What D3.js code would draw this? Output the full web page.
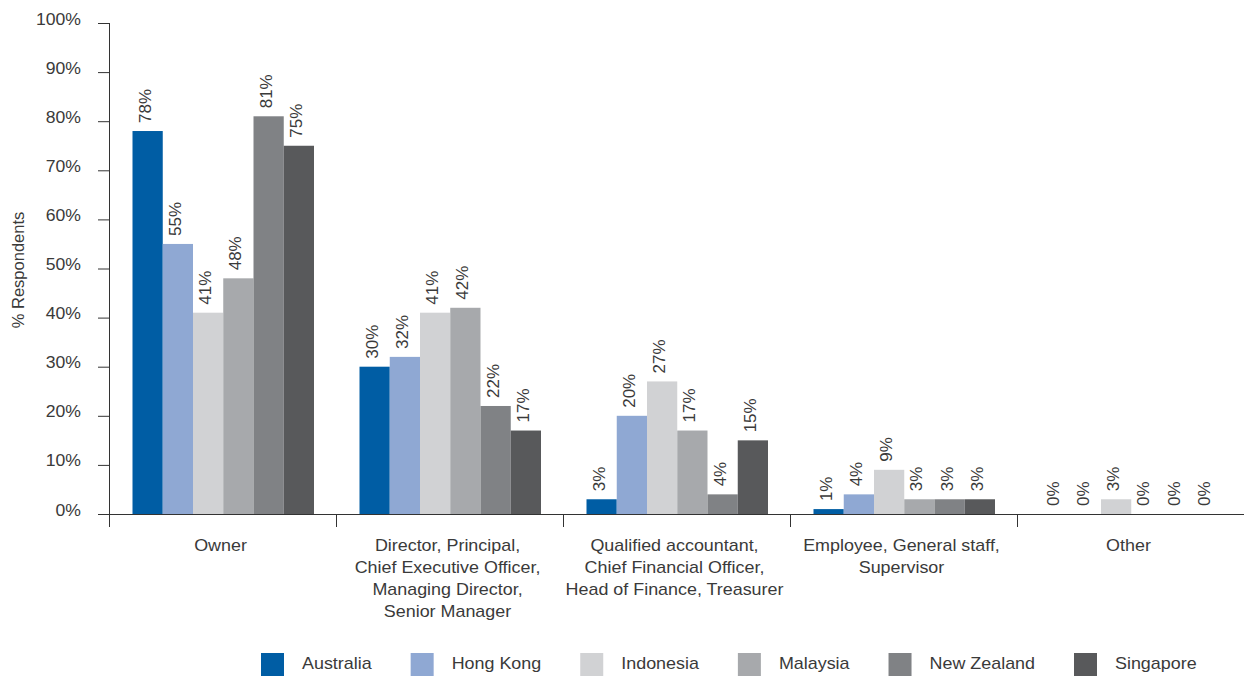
<!DOCTYPE html>
<html>
<head>
<meta charset="utf-8">
<script src="https://cdn.jsdelivr.net/npm/d3@7"></script>
<style>
  html, body { margin: 0; padding: 0; background: #fff; }
  svg { display: block; font-family: "Liberation Sans", Arial, sans-serif; }
</style>
</head>
<body>
<svg id="chart" width="1244" height="677"></svg>
<script>
const categories = [
  ["Owner"],
  ["Director, Principal,", "Chief Executive Officer,", "Managing Director,", "Senior Manager"],
  ["Qualified accountant,", "Chief Financial Officer,", "Head of Finance, Treasurer"],
  ["Employee, General staff,", "Supervisor"],
  ["Other"]
];
const seriesNames = ["Australia", "Hong Kong", "Indonesia", "Malaysia", "New Zealand", "Singapore"];
const seriesColors = ["#005da4", "#8fa8d3", "#d1d2d4", "#a7a9ac", "#808285", "#58595b"];
const australia  = [78, 30, 3, 1, 0];
const hongKong   = [55, 32, 20, 4, 0];
const indonesia  = [41, 41, 27, 9, 3];
const malaysia   = [48, 42, 17, 3, 0];
const newZealand = [81, 22, 4, 3, 0];
const singapore  = [75, 17, 15, 3, 0];
const seriesValues = [australia, hongKong, indonesia, malaysia, newZealand, singapore];
const yTicks = [0, 10, 20, 30, 40, 50, 60, 70, 80, 90, 100];
const yTitle = "% Respondents";

const svg = d3.select("#chart");
const textColor = "#3a3a3a";
const axisColor = "#333";
const sx = 1.12; // horizontal widening to mimic the original font

const x0 = d3.scaleBand().domain(d3.range(categories.length)).range([109, 1244]).padding(0);
const x1 = d3.scaleBand().domain(d3.range(seriesNames.length)).range([23.5, 205]).padding(0);
const y = d3.scaleLinear().domain([0, 100]).range([514, 23]);

// bars
const groups = svg.append("g").selectAll("g")
  .data(categories).join("g")
  .attr("transform", (d, i) => `translate(${x0(i)},0)`);

groups.each(function(cat, ci) {
  const g = d3.select(this);
  const data = seriesValues.map((vals, si) => ({ si, v: vals[ci] }));
  g.selectAll("rect").data(data).join("rect")
    .attr("x", d => x1(d.si))
    .attr("width", x1.bandwidth())
    .attr("y", d => y(d.v))
    .attr("height", d => y(0) - y(d.v))
    .attr("fill", d => seriesColors[d.si]);
  g.selectAll("text.val").data(data).join("text")
    .attr("class", "val")
    .attr("transform", d => `translate(${x1(d.si) + x1.bandwidth() / 2 + 3},${y(d.v) - 8}) rotate(-90)`)
    .attr("font-size", "17px")
    .attr("fill", textColor)
    .attr("text-anchor", "start")
    .text(d => d.v + "%");
});

// y axis
const yAxis = svg.append("g")
  .attr("transform", "translate(109,0)")
  .call(d3.axisLeft(y).tickValues(yTicks).tickSize(11).tickFormat(d => d + "%"));
yAxis.select(".domain").remove();
yAxis.selectAll(".tick line").attr("stroke", axisColor);
yAxis.selectAll(".tick text")
  .attr("x", null).attr("dy", null)
  .attr("transform", `translate(-28,1) scale(1.1,1)`)
  .attr("font-size", "16px")
  .attr("font-family", "'Liberation Sans', Arial, sans-serif")
  .attr("fill", textColor);

// axis lines
svg.append("line").attr("x1", 109.5).attr("x2", 109.5).attr("y1", y(100)).attr("y2", 527)
  .attr("stroke", axisColor);
svg.append("line").attr("x1", 109).attr("x2", 1244).attr("y1", 514.5).attr("y2", 514.5)
  .attr("stroke", axisColor);
svg.append("g").selectAll("line")
  .data(d3.range(1, categories.length)).join("line")
  .attr("x1", i => x0(i) + 0.5).attr("x2", i => x0(i) + 0.5)
  .attr("y1", 514).attr("y2", 527)
  .attr("stroke", axisColor);

// category labels
svg.append("g").selectAll("g")
  .data(categories).join("g")
  .attr("transform", (d, i) => `translate(${x0(i) + x0.bandwidth() / 2 - 2},551) scale(${sx},1)`)
  .each(function(lines) {
    const t = d3.select(this).append("text")
      .attr("text-anchor", "middle")
      .attr("font-size", "16px")
      .attr("fill", textColor);
    lines.forEach((ln, k) => {
      t.append("tspan").attr("x", 0).attr("y", k * 22).text(ln);
    });
  });

// y title
svg.append("text")
  .attr("transform", "translate(24,270) rotate(-90)")
  .attr("text-anchor", "middle")
  .attr("font-size", "16.5px")
  .attr("fill", textColor)
  .text(yTitle);

// legend
const legend = svg.append("g");
let lx = 261;
seriesNames.forEach((name, i) => {
  legend.append("rect")
    .attr("x", lx).attr("y", 653).attr("width", 23).attr("height", 23)
    .attr("fill", seriesColors[i]);
  const tg = legend.append("g").attr("transform", `translate(${lx + 41},669) scale(${sx},1)`);
  const t = tg.append("text")
    .attr("font-size", "16px")
    .attr("fill", textColor)
    .text(name);
  const w = t.node().getComputedTextLength() * sx;
  lx = lx + 41 + w + 39;
});
</script>
</body>
</html>
